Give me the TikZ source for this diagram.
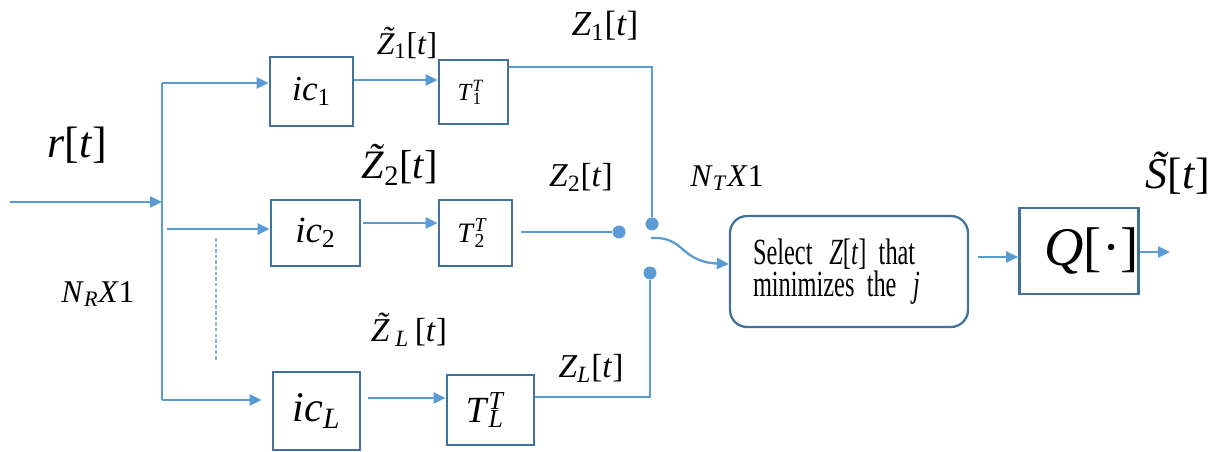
\documentclass[tikz,border=0pt]{standalone}
\usepackage{fontspec}
\setmainfont{Liberation Serif}
\newfontfamily\selfont{Liberation Serif}[FakeStretch=0.66]
\usetikzlibrary{arrows.meta}
\definecolor{linkblue}{RGB}{91,155,213}
\definecolor{boxblue}{RGB}{65,113,156}
\newcommand{\vv}[1]{\textit{#1}}
\newcommand{\tl}[1]{{\setbox0\hbox{\textit{#1}}%
  \hbox to \wd0{\hss\raisebox{0.17em}{\kern0.16em\textit{\char"02DC}}\hss}\kern-\wd0\box0}}
\newcommand{\subsup}[2]{\makebox[0pt][l]{\textsuperscript{#2}}\textsubscript{#1}}
\newcommand{\fs}[1]{\fontsize{#1}{#1}\selectfont}
\newcommand{\selsize}{\selfont\fontsize{21}{16.5}\selectfont\spaceskip=0.18em\relax}

\begin{document}
\begin{tikzpicture}[x=0.02cm, y=-0.02cm,
  blk/.style={rectangle, draw=boxblue, line width=1.6pt, inner sep=0pt},
  sel/.style={rectangle, rounded corners=0.34cm, draw=boxblue, line width=1.3pt,
              inner ysep=0pt, inner xsep=0.46cm, text width=3.84cm, align=left,
              font=\selsize},
  lk/.style={linkblue, line width=1.3pt},
  ar/.style={lk, -{Triangle[length=0.24cm, width=0.22cm]}},
  tap/.style={circle, fill=linkblue, inner sep=0pt, minimum size=0.26cm},
  lbl/.style={inner sep=0pt}]
\useasboundingbox (0,0) rectangle (1221,452);

%% receiver branches
\node[blk, minimum width=1.66cm, minimum height=1.38cm, font=\fs{20}] (ic1) at (311.5,91.5) {\vv{ic}\textsubscript{1}};
\node[blk, minimum width=1.78cm, minimum height=1.32cm, font=\fs{21}] (ic2) at (315.5,233)  {\vv{ic}\textsubscript{2}};
\node[blk, minimum width=1.74cm, minimum height=1.56cm, font=\fs{24}] (icL) at (316.5,411)  {\vv{ic}\textsubscript{\vv{L}}};
\node[blk, minimum width=1.38cm, minimum height=1.28cm, font=\fs{14}] (t1)  at (473.5,92)   {\vv{T}\subsup{1}{\vv{T}}\kern0.3em};
\node[blk, minimum width=1.46cm, minimum height=1.32cm, font=\fs{16}] (t2)  at (475.5,233)  {\vv{T}\subsup{2}{\vv{T}}\kern0.3em};
\node[blk, minimum width=1.74cm, minimum height=1.40cm, font=\fs{21}] (tL)  at (490.5,410)  {\vv{T}\subsup{\vv{L}}{\vv{T}}\kern0.3em};

%% selector and quantiser
\node[sel, minimum height=2.22cm] (pick) at (849,271.5)
  {Select \hspace{0.12em}\vv{Z}[\vv{t}] that\\minimizes the \hspace{0.12em}\vv{j}};
\node[blk, minimum width=2.28cm, minimum height=1.72cm, font=\fs{31}] (q) at (1079,251)
  {\hspace{0.5cm}\vv{Q}[·]};

%% switch contacts
\node[tap] (s1) at (652,224) {};
\node[tap] (s2) at (619,232) {};
\node[tap] (sL) at (650,273) {};

\coordinate (in)  at (10,202);
\coordinate (b0)  at (162,202);
\coordinate (b1)  at (162,83);
\coordinate (b2)  at (162,229);
\coordinate (bL)  at (162,400);
\coordinate (arm) at (651,238);
\coordinate (out) at (1170,252);
\coordinate (dt)  at (216,238);
\coordinate (db)  at (216,360);

\draw[ar] (in) -- (b0);
\draw[lk] (b1) -- (bL);
\draw[ar] (b1) -- (ic1.west |- b1);
\draw[ar, shorten <=3pt] (b2) -- (ic2.west |- b2);
\draw[ar, shorten >=0.2cm] (bL) -- (icL.west |- bL);
\draw[boxblue!55, line width=0.6pt, dash pattern=on 2pt off 1.2pt] (dt) -- (db);

\draw[ar] (ic1.east |- 0,80) -- (t1.west |- 0,80);
\draw[ar, shorten <=0.04cm] (ic2.east |- 0,223) -- (t2.west |- 0,223);
\draw[ar, shorten <=0.14cm] (icL.east |- 0,398) -- (tL.west |- 0,398);

\draw[lk, line width=0.9pt] (t1.east |- 0,67) -| (s1);
\draw[lk, shorten <=0.16cm] (t2.east |- s2) -- (s2);
\draw[lk] (tL.east |- 0,397) -| (sL);
\draw[ar] (arm) .. controls (685,236) and (680,262) .. (pick.west |- 0,264);

\draw[ar, shorten <=0.18cm] (pick.east |- 0,257) -- (q.west |- 0,257);
\draw[ar] (q.east |- out) -- (out);

%% signal labels
\node[lbl, font=\fs{25}] (r)   at (77,145)  {\vv{r}[\vv{t}]};
\node[lbl, font=\fs{18}] (nr)  at (98,294)  {\vv{N}\textsubscript{\vv{R}}\vv{X}1};
\node[lbl, font=\fs{18}] (zt1) at (407,43)  {\tl{Z}\textsubscript{1}[\vv{t}]};
\node[lbl, font=\fs{20}] (z1)  at (605,26)  {\vv{Z}\textsubscript{1}[\vv{t}]};
\node[lbl, font=\fs{23}] (zt2) at (400,165) {\tl{Z}\textsubscript{2}[\vv{t}]};
\node[lbl, font=\fs{19}] (z2)  at (581,177) {\vv{Z}\textsubscript{2}[\vv{t}]};
\node[lbl, font=\fs{19}] (ztL) at (409,330) {\tl{Z}\,\textsubscript{\vv{L}}\,[\vv{t}]};
\node[lbl, font=\fs{19}] (zL)  at (591,368) {\vv{Z}\textsubscript{\vv{L}}[\vv{t}]};
\node[lbl, font=\fs{18}] (nt)  at (727,178) {\vv{N}\textsubscript{\vv{T}}\vv{X}1};
\node[lbl, font=\fs{25}] (so)  at (1178,173) {\tl{S}[\vv{t}]};
\end{tikzpicture}
\end{document}
